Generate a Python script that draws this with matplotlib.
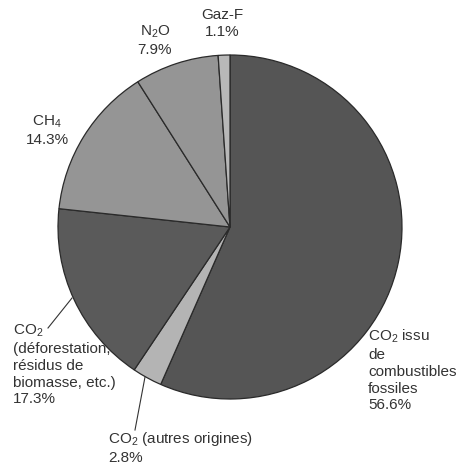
import matplotlib
matplotlib.use("Agg")
import matplotlib.pyplot as plt

plt.rcParams['font.family'] = ['Liberation Sans', 'DejaVu Sans']
plt.rcParams['mathtext.default'] = 'regular'

# data, clockwise from 12 o'clock
sources = ['CO$_2$ issu\nde\ncombustibles\nfossiles',
           'CO$_2$ (autres origines)',
           'CO$_2$\n(déforestation,\nrésidus de\nbiomasse, etc.)',
           'CH$_4$',
           'N$_2$O',
           'Gaz-F']
shares = [56.6, 2.8, 17.3, 14.3, 7.9, 1.1]
shades = ['#555555', '#b4b4b4', '#5a5a5a', '#959595', '#959595', '#b8b8b8']

W, H = 462, 467
fig = plt.figure(figsize=(W / 100, H / 100), dpi=100)
ax = fig.add_axes([0, 0, 1, 1])

# pie laid out in pixel units (y up)
cx, cy, rad = 230, H - 227, 172
ax.pie(shares, colors=shades, startangle=90, counterclock=False,
       center=(cx, cy), radius=rad,
       wedgeprops=dict(edgecolor='#2a2a2a', linewidth=0.9))
ax.set_xlim(0, W)
ax.set_ylim(0, H)
ax.set_aspect('equal')
ax.axis('off')

txt = dict(fontsize=11, color='#333333', linespacing=1.25)

def lab(i):
    return f"{sources[i]}\n{shares[i]:.1f}%"

# labels (pixel positions from top)
ax.text(368, H - 328, lab(0), ha='left', va='top', **txt)
ax.text(108, H - 430, lab(1), ha='left', va='top', **txt)
ax.text(13, H - 323, lab(2), ha='left', va='top', **txt)
ax.text(47, H - 114, lab(3), ha='center', va='top', **txt)
ax.text(155, H - 24, lab(4), ha='center', va='top', **txt)
ax.text(222, H - 8, lab(5), ha='center', va='top', **txt)

# leader lines
ax.plot([72, 48], [H - 298, H - 328], color='#333333', lw=0.8)
ax.plot([145, 135], [H - 377, H - 430], color='#333333', lw=0.8)

fig.savefig('out.png', dpi=100)
